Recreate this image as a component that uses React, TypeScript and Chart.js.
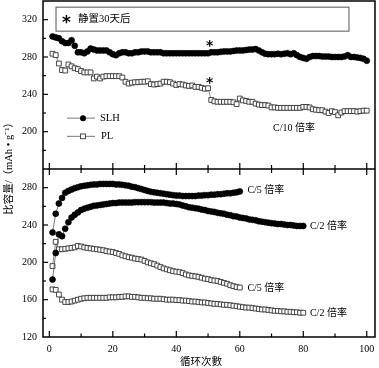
import React, { useEffect, useRef } from "react";
import { Chart, registerables } from "chart.js";

Chart.register(...registerables);

// ---- Data (cycle numbers start at 1) ----
const topSLH = [
  302, 301, 300, 297, 295, 295, 298, 292, 285, 285,
  284, 286, 289, 288, 287, 287, 287, 287, 285, 283,
  282, 284, 285, 285, 284, 284, 285, 285, 286, 286,
  286, 285, 285, 285, 285, 284, 284, 284, 284, 284,
  284, 284, 284, 284, 284, 284, 284, 284, 284, 284,
  285, 285, 285, 285.5, 286, 286, 286, 286.5, 287, 287,
  287, 287.5, 288, 288, 288.5, 287, 285, 283.5, 283, 283,
  283, 283.5, 283, 283.5, 284, 283, 284, 282, 280, 279,
  278, 280, 281, 281, 281, 280.5, 280.5, 280.5, 280, 280,
  280, 280, 280.5, 282, 280, 280, 279.5, 279, 278, 276,
];
const topPL = [
  283.5, 282, 273, 266, 265.5, 272, 270, 268, 267, 265,
  263.5, 263.5, 263.5, 257, 259, 257, 259, 259.5, 259.5, 259.5,
  259.5, 259.5, 258, 253.5, 251.5, 252.5, 253, 253, 253.5, 253.5,
  254, 251, 250.5, 251, 251.5, 253.5, 253.5, 253, 251.5, 250,
  251, 250.5, 249.5, 249, 249.5, 248, 248, 247, 246, 246.5,
  234, 232.5, 232, 232, 232, 232, 232, 231.5, 229.5, 235.5,
  233.5, 233, 232, 232, 230, 229, 228.5, 228.5, 228, 226,
  226, 225.5, 225.5, 225.5, 225.5, 225.5, 225.5, 225.5, 225.5, 226.5,
  226.5, 226, 224, 223.5, 223, 223, 221.5, 220, 222, 221,
  217.5, 220.5, 222, 222, 222, 222, 221.5, 222, 222.5, 222.5,
];
const slhC5 = [
  232, 252, 263, 269, 274.5, 276.5, 278, 279.5, 280.5, 281.5,
  282, 282.5, 283, 283.5, 283.5, 284, 284, 284, 284, 284,
  283.5, 283.5, 283, 282.5, 282, 281, 280.5, 279.5, 278.5, 277.5,
  276.5, 275.5, 275, 274.5, 274, 273.5, 273, 272.5, 272, 271.5,
  271.5, 271, 271, 271, 271, 271, 271.5, 271.5, 272, 272,
  272.5, 272.5, 273, 273, 273.5, 274, 274, 274.5, 275, 276,
];
const slhC2 = [
  181.5, 210, 230, 228, 236, 243, 248, 251, 253.5, 256,
  257.5, 258.5, 259.5, 260.5, 261, 261.5, 262, 262.5, 263, 263.5,
  263.5, 264, 264, 264, 264, 264, 264.5, 264.5, 264.5, 264.5,
  264.5, 264.5, 264, 264, 264, 264, 263.5, 263, 263, 262.5,
  262, 261, 260, 259, 258.5, 258, 257.5, 256.5, 256, 255,
  254.5, 254, 253, 252.5, 252, 251, 250.5, 249.5, 249, 248,
  247.5, 247, 246, 245.5, 245, 244, 243.5, 243, 242.5, 242,
  241.5, 241, 241, 240.5, 240, 240, 239.5, 239, 239, 239,
];
const plC5 = [
  196, 222, 214, 214, 214.5, 215, 215.5, 216, 217.5, 217,
  216, 215.5, 215, 214.5, 214, 213.5, 213, 212, 211.5, 211,
  210, 209, 207.5, 206.5, 205.5, 205, 204, 203.5, 203, 201.5,
  200, 199, 198, 196.5, 195, 193.5, 192.5, 191.5, 190.5, 190,
  189.5, 188.5, 187, 186, 185.5, 185, 184.5, 183.5, 182.5, 182,
  181, 180.5, 180, 179, 178, 177, 175.5, 174.5, 173.5, 173,
];
const plC2 = [
  171, 170.5, 165.5, 160, 157.5, 157.5, 158, 159, 160, 161,
  161.5, 162, 162, 162, 162, 162, 162, 162, 162.5, 162.5,
  162.5, 163, 163, 163.5, 163.5, 163, 163, 162.5, 162, 162,
  161.5, 161.5, 161, 161, 161, 160.5, 160, 160, 160, 159.5,
  159.5, 159, 159, 158.5, 158, 158, 157.5, 157, 157, 156.5,
  156, 155.5, 155.5, 155, 154.5, 154.5, 154, 153.5, 153, 152.5,
  152, 151.5, 151.5, 151, 150.5, 150, 149.5, 149.5, 149, 148.5,
  148, 148, 147.5, 147.5, 147, 147, 146.5, 146.5, 146, 146,
];

const xTickLabels = [0, 20, 40, 60, 80, 100];
const topYTickLabels = [200, 240, 280, 320];
const botYTickLabels = [120, 160, 200, 240, 280];

const SERIF = "'Liberation Serif', 'Noto Sans CJK SC', serif";
const CJK = "'Liberation Serif', 'Noto Sans CJK SC', serif";

const toPts = (arr: number[]) => arr.map((v, i) => ({ x: i + 1, y: v }));

const circleDs = (data: number[], axis: string) => ({
  data: toPts(data),
  yAxisID: axis,
  borderColor: "#555",
  borderWidth: 0.8,
  pointStyle: "circle",
  pointRadius: 3,
  pointBorderWidth: 0.6,
  pointBackgroundColor: "#000",
  pointBorderColor: "#000",
  showLine: true,
  tension: 0,
});
const squareDs = (data: number[], axis: string) => ({
  data: toPts(data),
  yAxisID: axis,
  borderColor: "#666",
  borderWidth: 0.8,
  pointStyle: "rect",
  pointRadius: 3.4,
  pointBorderWidth: 0.9,
  pointBackgroundColor: "#fff",
  pointBorderColor: "#333",
  showLine: true,
  tension: 0,
});

const zeroPad = (s: any) => {
  s.paddingTop = 0;
  s.paddingBottom = 0;
  s.paddingLeft = 0;
  s.paddingRight = 0;
};

const framePlugin = {
  id: "frame",
  afterDraw(chart: any) {
    const { ctx, chartArea: a, scales } = chart;
    const xs = scales.x;
    const yT = scales.yTop;
    const yB = scales.yBot;
    const div = yT.bottom;
    ctx.save();
    ctx.strokeStyle = "#000";
    ctx.lineWidth = 1.5;
    ctx.strokeRect(a.left, a.top, a.right - a.left, a.bottom - a.top);
    ctx.beginPath();
    ctx.moveTo(a.left, div);
    ctx.lineTo(a.right, div);
    ctx.stroke();

    ctx.lineWidth = 1.2;
    // x ticks
    for (let v = 0; v <= 100; v += 10) {
      const px = xs.getPixelForValue(v);
      const major = v % 20 === 0;
      ctx.beginPath();
      ctx.moveTo(px, a.bottom);
      ctx.lineTo(px, a.bottom - (major ? 6 : 3.5));
      ctx.moveTo(px, div - (major ? 6 : 4));
      ctx.lineTo(px, div + (major ? 6 : 4));
      ctx.stroke();
    }
    // y ticks
    for (let v = 180; v <= 330; v += 20) {
      const py = yT.getPixelForValue(v);
      const major = v % 40 === 0;
      ctx.beginPath();
      ctx.moveTo(a.left, py);
      ctx.lineTo(a.left + (major ? 5 : 3), py);
      ctx.stroke();
    }
    for (let v = 140; v <= 290; v += 20) {
      const py = yB.getPixelForValue(v);
      const major = v % 40 === 0;
      ctx.beginPath();
      ctx.moveTo(a.left, py);
      ctx.lineTo(a.left + (major ? 5 : 3), py);
      ctx.stroke();
    }

    // annotation box
    const bx1 = xs.getPixelForValue(2.1);
    const bx2 = xs.getPixelForValue(94.4);
    const by1 = yT.getPixelForValue(333.4);
    const by2 = yT.getPixelForValue(307.7);
    ctx.lineWidth = 1;
    ctx.strokeStyle = "#555";
    ctx.strokeRect(bx1, by1, bx2 - bx1, by2 - by1);

    ctx.fillStyle = "#000";
    ctx.textBaseline = "middle";
    ctx.textAlign = "center";
    ctx.font = "bold 17px 'DejaVu Sans'";
    ctx.fillText("*", bx1 + 10.5, (by1 + by2) / 2 + 4);
    ctx.textAlign = "left";
    ctx.font = `10.5px ${CJK}`;
    ctx.fillText("静置30天后", bx1 + 22, (by1 + by2) / 2);

    // stars
    ctx.textAlign = "center";
    ctx.font = "bold 14px 'DejaVu Sans'";
    ctx.fillText("*", xs.getPixelForValue(50.5), yT.getPixelForValue(295.6) + 3.5);
    ctx.fillText("*", xs.getPixelForValue(50.5), yT.getPixelForValue(255) + 3.5);

    // legend
    const lx1 = a.left + 24, lx2 = a.left + 52, lm = a.left + 40;
    const ly1 = yT.getPixelForValue(214.5);
    const ly2 = yT.getPixelForValue(195);
    ctx.strokeStyle = "#555";
    ctx.lineWidth = 0.8;
    ctx.beginPath();
    ctx.moveTo(lx1, ly1); ctx.lineTo(lx2, ly1);
    ctx.moveTo(lx1, ly2); ctx.lineTo(lx2, ly2);
    ctx.stroke();
    ctx.fillStyle = "#000";
    ctx.beginPath();
    ctx.arc(lm, ly1, 3, 0, Math.PI * 2);
    ctx.fill();
    ctx.fillStyle = "#fff";
    ctx.strokeStyle = "#333";
    ctx.lineWidth = 0.9;
    ctx.fillRect(lm - 2.4, ly2 - 2.4, 4.8, 4.8);
    ctx.strokeRect(lm - 2.4, ly2 - 2.4, 4.8, 4.8);
    ctx.fillStyle = "#000";
    ctx.textAlign = "left";
    ctx.font = `10.5px ${SERIF}`;
    ctx.fillText("SLH", lx2 + 5, ly1);
    ctx.fillText("PL", lx2 + 6, ly2);

    // rate labels
    ctx.font = `10px ${CJK}`;
    ctx.fillText("C/10 倍率", xs.getPixelForValue(70.5), yT.getPixelForValue(204));
    ctx.fillText("C/5 倍率", xs.getPixelForValue(62.4), yB.getPixelForValue(277));
    ctx.fillText("C/2 倍率", xs.getPixelForValue(82.1), yB.getPixelForValue(238.8));
    ctx.fillText("C/5 倍率", xs.getPixelForValue(62.4), yB.getPixelForValue(172.6));
    ctx.fillText("C/2 倍率", xs.getPixelForValue(82.1), yB.getPixelForValue(145));

    // axis titles
    ctx.textAlign = "center";
    ctx.font = `10.5px ${CJK}`;
    ctx.fillText("循环次數", (a.left + a.right) / 2 - 8, 362);
    ctx.save();
    ctx.translate(9, 166);
    ctx.rotate(-Math.PI / 2);
    ctx.fillText("比容量/（mAh • g⁻¹）", 0, 0);
    ctx.restore();

    ctx.restore();
  },
};

export default function App() {
  const ref = useRef<HTMLCanvasElement | null>(null);
  useEffect(() => {
    if (!ref.current) return;
    Chart.defaults.font.family = SERIF;
    Chart.defaults.font.size = 10;
    Chart.defaults.color = "#000";
    const yCommon = {
      type: "linear",
      axis: "y",
      position: "left",
      stack: "panels",
      stackWeight: 1,
      grid: { display: false, drawTicks: false },
      border: { display: false },
      afterFit: (s: any) => { s.width = 43; zeroPad(s); },
    };
    const chart = new Chart(ref.current, {
      type: "line",
      data: {
        datasets: [
          circleDs(topSLH, "yTop"),
          squareDs(topPL, "yTop"),
          circleDs(slhC5, "yBot"),
          circleDs(slhC2, "yBot"),
          squareDs(plC5, "yBot"),
          squareDs(plC2, "yBot"),
        ] as any,
      },
      options: {
        animation: false,
        responsive: false,
        devicePixelRatio: 1,
        layout: { autoPadding: false, padding: { top: 1, right: 4, left: 0, bottom: 0 } },
        plugins: { legend: { display: false }, tooltip: { enabled: false } },
        scales: {
          x: {
            type: "linear",
            min: -2,
            max: 102.6,
            grid: { display: false, drawTicks: false },
            border: { display: false },
            ticks: {
              stepSize: 10,
              includeBounds: false,
              autoSkip: false,
              maxRotation: 0,
              padding: 6,
              callback: (v: any) => (xTickLabels.includes(Number(v)) ? String(v) : ""),
            },
            afterFit: (s: any) => { s.height = 31; zeroPad(s); },
          },
          yBot: {
            ...yCommon,
            min: 120,
            max: 300,
            ticks: {
              stepSize: 40,
              includeBounds: false,
              padding: 6,
              callback: (v: any) => (botYTickLabels.includes(Number(v)) ? String(v) : ""),
            },
          },
          yTop: {
            ...yCommon,
            min: 160,
            max: 340,
            ticks: {
              stepSize: 40,
              includeBounds: false,
              padding: 6,
              callback: (v: any) => (topYTickLabels.includes(Number(v)) ? String(v) : ""),
            },
          },
        } as any,
      },
      plugins: [framePlugin],
    });
    return () => chart.destroy();
  }, []);
  return (
    <div style={{ position: "absolute", left: 0, top: 0, width: 379, height: 368, background: "#fff" }}>
      <canvas ref={ref} width={379} height={368} style={{ width: 379, height: 368, display: "block" }} />
    </div>
  );
}
